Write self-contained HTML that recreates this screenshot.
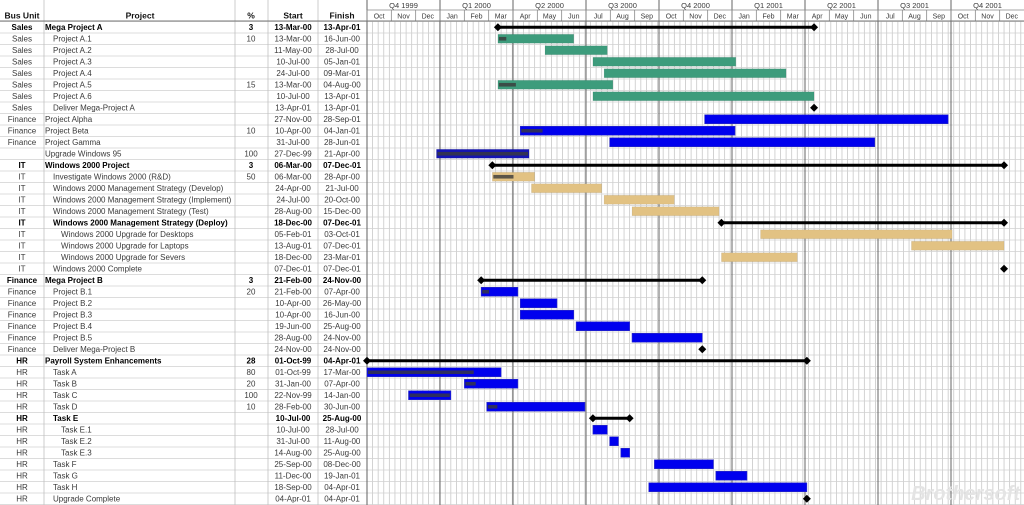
<!DOCTYPE html>
<html><head><meta charset="utf-8">
<style>
html,body{margin:0;padding:0;background:#fff;width:1024px;height:505px;overflow:hidden;}
svg text{font-family:"Liberation Sans",sans-serif;font-size:8px;fill:#3a3a3a;}
</style></head><body>
<svg id="s" width="1024" height="505" xmlns="http://www.w3.org/2000/svg"></svg>
<script>
(function(){
var G='#3d9c7c',B='#0000ee',T='#e2c283';
var rows=[
['Sales','Mega Project A','3','13-Mar-00','13-Apr-01',0,1,'sum'],
['Sales','Project A.1','10','13-Mar-00','16-Jun-00',1,0,'bar',G],
['Sales','Project A.2','','11-May-00','28-Jul-00',1,0,'bar',G],
['Sales','Project A.3','','10-Jul-00','05-Jan-01',1,0,'bar',G],
['Sales','Project A.4','','24-Jul-00','09-Mar-01',1,0,'bar',G],
['Sales','Project A.5','15','13-Mar-00','04-Aug-00',1,0,'bar',G],
['Sales','Project A.6','','10-Jul-00','13-Apr-01',1,0,'bar',G],
['Sales','Deliver Mega-Project A','','13-Apr-01','13-Apr-01',1,0,'ms'],
['Finance','Project Alpha','','27-Nov-00','28-Sep-01',0,0,'bar',B],
['Finance','Project Beta','10','10-Apr-00','04-Jan-01',0,0,'bar',B],
['Finance','Project Gamma','','31-Jul-00','28-Jun-01',0,0,'bar',B],
['','Upgrade Windows 95','100','27-Dec-99','21-Apr-00',0,0,'bar','#1414b4'],
['IT','Windows 2000 Project','3','06-Mar-00','07-Dec-01',0,1,'sum'],
['IT','Investigate Windows 2000 (R&D)','50','06-Mar-00','28-Apr-00',1,0,'bar',T],
['IT','Windows 2000 Management Strategy (Develop)','','24-Apr-00','21-Jul-00',1,0,'bar',T],
['IT','Windows 2000 Management Strategy (Implement)','','24-Jul-00','20-Oct-00',1,0,'bar',T],
['IT','Windows 2000 Management Strategy (Test)','','28-Aug-00','15-Dec-00',1,0,'bar',T],
['IT','Windows 2000 Management Strategy (Deploy)','','18-Dec-00','07-Dec-01',1,1,'sum'],
['IT','Windows 2000 Upgrade for Desktops','','05-Feb-01','03-Oct-01',2,0,'bar',T],
['IT','Windows 2000 Upgrade for Laptops','','13-Aug-01','07-Dec-01',2,0,'bar',T],
['IT','Windows 2000 Upgrade for Severs','','18-Dec-00','23-Mar-01',2,0,'bar',T],
['IT','Windows 2000 Complete','','07-Dec-01','07-Dec-01',1,0,'ms'],
['Finance','Mega Project B','3','21-Feb-00','24-Nov-00',0,1,'sum'],
['Finance','Project B.1','20','21-Feb-00','07-Apr-00',1,0,'bar',B],
['Finance','Project B.2','','10-Apr-00','26-May-00',1,0,'bar',B],
['Finance','Project B.3','','10-Apr-00','16-Jun-00',1,0,'bar',B],
['Finance','Project B.4','','19-Jun-00','25-Aug-00',1,0,'bar',B],
['Finance','Project B.5','','28-Aug-00','24-Nov-00',1,0,'bar',B],
['Finance','Deliver Mega-Project B','','24-Nov-00','24-Nov-00',1,0,'ms'],
['HR','Payroll System Enhancements','28','01-Oct-99','04-Apr-01',0,1,'sum'],
['HR','Task A','80','01-Oct-99','17-Mar-00',1,0,'bar',B],
['HR','Task B','20','31-Jan-00','07-Apr-00',1,0,'bar',B],
['HR','Task C','100','22-Nov-99','14-Jan-00',1,0,'bar',B],
['HR','Task D','10','28-Feb-00','30-Jun-00',1,0,'bar',B],
['HR','Task E','','10-Jul-00','25-Aug-00',1,1,'sum'],
['HR','Task E.1','','10-Jul-00','28-Jul-00',2,0,'bar',B],
['HR','Task E.2','','31-Jul-00','11-Aug-00',2,0,'bar',B],
['HR','Task E.3','','14-Aug-00','25-Aug-00',2,0,'bar',B],
['HR','Task F','','25-Sep-00','08-Dec-00',1,0,'bar',B],
['HR','Task G','','11-Dec-00','19-Jan-01',1,0,'bar',B],
['HR','Task H','','18-Sep-00','04-Apr-01',1,0,'bar',B],
['HR','Upgrade Complete','','04-Apr-01','04-Apr-01',1,0,'ms']
];
var M={Jan:0,Feb:1,Mar:2,Apr:3,May:4,Jun:5,Jul:6,Aug:7,Sep:8,Oct:9,Nov:10,Dec:11};
var X0=367,PX=657/823,base=Date.UTC(1999,9,1);
function dx(s){var p=s.split('-');var y=+p[2];y=y>50?1900+y:2000+y;return X0+(Date.UTC(y,M[p[1]],+p[0])-base)/864e5*PX;}
var o='';
var TOPY=21.5,RH=11.5,N=rows.length;
for(var d=0;d<823;d+=7){var x=X0+d*PX;o+='<line x1="'+x+'" y1="21" x2="'+x+'" y2="505" stroke="#c8c8c8" stroke-width="0.8"/>';}
for(var i=0;i<=N;i++){var y=TOPY+i*RH;o+='<line x1="0" y1="'+y+'" x2="1024" y2="'+y+'" stroke="#d0d0d0" stroke-width="0.8"/>';}
[44,235,268,318,367].forEach(function(x){o+='<line x1="'+x+'" y1="0" x2="'+x+'" y2="505" stroke="#c0c0c0" stroke-width="0.8"/>';});
var mn=['Oct','Nov','Dec','Jan','Feb','Mar','Apr','May','Jun','Jul','Aug','Sep'];
var q=['Q4 1999','Q1 2000','Q2 2000','Q3 2000','Q4 2000','Q1 2001','Q2 2001','Q3 2001','Q4 2001'];
var qw=657/9,mw=qw/3;
for(var k=0;k<9;k++){var x=X0+k*qw;o+='<line x1="'+x+'" y1="0" x2="'+x+'" y2="505" stroke="#555" stroke-width="0.9"/>';o+='<text x="'+(x+qw/2)+'" y="8" text-anchor="middle" style="font-size:7.5px">'+q[k]+'</text>';}
for(var k=0;k<27;k++){var x=X0+k*mw;o+='<line x1="'+x+'" y1="10" x2="'+x+'" y2="21" stroke="#888" stroke-width="0.8"/>';o+='<text x="'+(x+mw/2)+'" y="18.5" text-anchor="middle" style="font-size:7px">'+mn[k%12]+'</text>';}
o+='<line x1="367" y1="10" x2="1024" y2="10" stroke="#888" stroke-width="0.8"/>';
o+='<line x1="0" y1="21" x2="1024" y2="21" stroke="#777" stroke-width="0.9"/>';
var hb='font-weight:bold;fill:#111;font-size:8.5px';
o+='<text x="22" y="18.5" text-anchor="middle" style="'+hb+'">Bus Unit</text><text x="140" y="18.5" text-anchor="middle" style="'+hb+'">Project</text><text x="251" y="18.5" text-anchor="middle" style="'+hb+'">%</text><text x="293" y="18.5" text-anchor="middle" style="'+hb+'">Start</text><text x="342" y="18.5" text-anchor="middle" style="'+hb+'">Finish</text>';
function esc(s){return s.replace(/&/g,'&amp;');}
rows.forEach(function(r,i){
 var y=TOPY+i*RH,ty=y+8.6,st=r[6]?' style="font-weight:bold;fill:#000"':'';
 o+='<text x="22" y="'+ty+'" text-anchor="middle"'+st+'>'+r[0]+'</text>';
 o+='<text x="'+(45+r[5]*8)+'" y="'+ty+'"'+st+'>'+esc(r[1])+'</text>';
 o+='<text x="251" y="'+ty+'" text-anchor="middle"'+st+'>'+r[2]+'</text>';
 o+='<text x="293" y="'+ty+'" text-anchor="middle"'+st+'>'+r[3]+'</text>';
 o+='<text x="342" y="'+ty+'" text-anchor="middle"'+st+'>'+r[4]+'</text>';
 var x1=dx(r[3]),x2=dx(r[4]),cy=y+RH/2;
 function dia(x){return '<polygon points="'+(x-4)+','+cy+' '+x+','+(cy-4)+' '+(x+4)+','+cy+' '+x+','+(cy+4)+'" fill="#000"/>';}
 if(r[7]=='sum'){o+='<rect x="'+x1+'" y="'+(cy-1.5)+'" width="'+(x2-x1)+'" height="3" fill="#000"/>'+dia(x1)+dia(x2);}
 else if(r[7]=='ms'){o+=dia(x1);}
 else{
  o+='<rect x="'+x1+'" y="'+(y+1.3)+'" width="'+(x2-x1)+'" height="'+(RH-2.6)+'" fill="'+r[8]+'" stroke="'+(r[8]==B?'#3030c0':'rgba(0,0,0,0.1)')+'" stroke-width="0.6"/>';
  var p=+r[2]||0; if(p>0){o+='<rect x="'+(x1+1)+'" y="'+(cy-1.8)+'" width="'+((x2-x1-2)*p/100)+'" height="3.6" fill="#3a3a3a" opacity="0.8"/>';}
 }
});
o+='<text x="1020" y="500" text-anchor="end" style="font-size:20px;font-style:italic;font-weight:bold;fill:#e4e4e4">Brothersoft</text>';
document.getElementById('s').innerHTML=o;
})();
</script>
</body></html>
